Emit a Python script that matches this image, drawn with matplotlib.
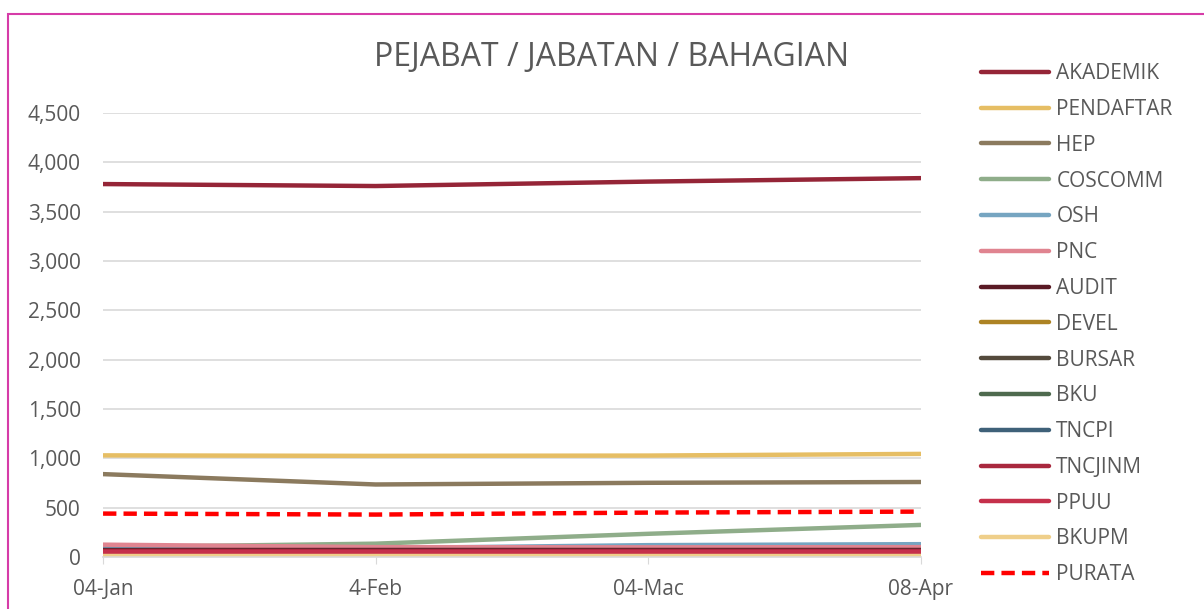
import matplotlib.pyplot as plt
from matplotlib.patches import Rectangle
from matplotlib.ticker import FuncFormatter

plt.rcParams['font.family'] = ['Open Sans', 'DejaVu Sans']

dates = ['04-Jan', '4-Feb', '04-Mac', '08-Apr']

akademik = [3780, 3760, 3805, 3840]
pendaftar = [1030, 1025, 1028, 1045]
hep = [840, 735, 752, 760]
coscomm = [100, 135, 235, 325]
osh = [110, 90, 120, 130]
pnc = [125, 100, 98, 100]
audit = [70, 70, 70, 70]
devel = [40, 40, 42, 42]
bursar = [60, 60, 60, 60]
bku = [55, 55, 55, 55]
tncpi = [50, 50, 50, 50]
tncjinm = [62, 62, 62, 62]
ppuu = [48, 48, 48, 48]
bkupm = [10, 10, 10, 10]
purata = [440, 430, 450, 460]

names = ['AKADEMIK', 'PENDAFTAR', 'HEP', 'COSCOMM', 'OSH', 'PNC', 'AUDIT', 'DEVEL',
         'BURSAR', 'BKU', 'TNCPI', 'TNCJINM', 'PPUU', 'BKUPM']
series = [akademik, pendaftar, hep, coscomm, osh, pnc, audit, devel,
          bursar, bku, tncpi, tncjinm, ppuu, bkupm]
colors = ['#952537', '#E6BE64', '#8B7A5E', '#8FAD8A', '#76A5C1', '#E08490', '#5A1A25', '#AD8324',
          '#544A3C', '#4E6A4E', '#3F6179', '#A9283E', '#C5304B', '#EFCF8A']

fig = plt.figure(figsize=(12.04, 6.09), dpi=100)
ax = fig.add_axes([0.0856, 0.0854, 0.679, 0.729])

x = range(len(dates))
for name, vals, c in zip(names, series, colors):
    ax.plot(x, vals, color=c, lw=3.2, label=name, solid_capstyle='round')
ax.plot(x, purata, color='#FF0000', lw=3.2, ls=(0, (3, 1.6)), label='PURATA')

ax.set_ylim(0, 4500)
ax.set_xlim(0, 3)
ax.set_yticks(range(0, 4501, 500))
ax.yaxis.set_major_formatter(FuncFormatter(lambda v, p: f'{int(v):,}'))
ax.set_xticks(list(x))
ax.set_xticklabels(dates)
ax.grid(axis='y', color='#D9D9D9', lw=1.2)
ax.set_axisbelow(True)
for s in ['top', 'right', 'left']:
    ax.spines[s].set_visible(False)
ax.spines['bottom'].set_color('#D9D9D9')
ax.spines['bottom'].set_linewidth(1.2)
ax.tick_params(axis='y', length=0, labelsize=15, labelcolor='#595959', pad=16)
ax.tick_params(axis='x', length=5, color='#D9D9D9', labelsize=15, labelcolor='#595959', pad=11)

fig.text(0.508, 0.905, 'PEJABAT / JABATAN / BAHAGIAN', ha='center', va='center',
         fontsize=23, color='#595959')

leg = fig.legend(loc='upper left', bbox_to_anchor=(0.7995, 0.927), frameon=False,
                 fontsize=15, labelcolor='#595959', handlelength=3.25, handletextpad=0.35,
                 labelspacing=0.71)

fig.patches.append(Rectangle((8 / 1204, -0.1), 1.2, 1 - 14 / 609 + 0.1, transform=fig.transFigure,
                             fill=False, edgecolor='#D63CA8', lw=1.5))

fig.savefig('out.png', dpi=100)
